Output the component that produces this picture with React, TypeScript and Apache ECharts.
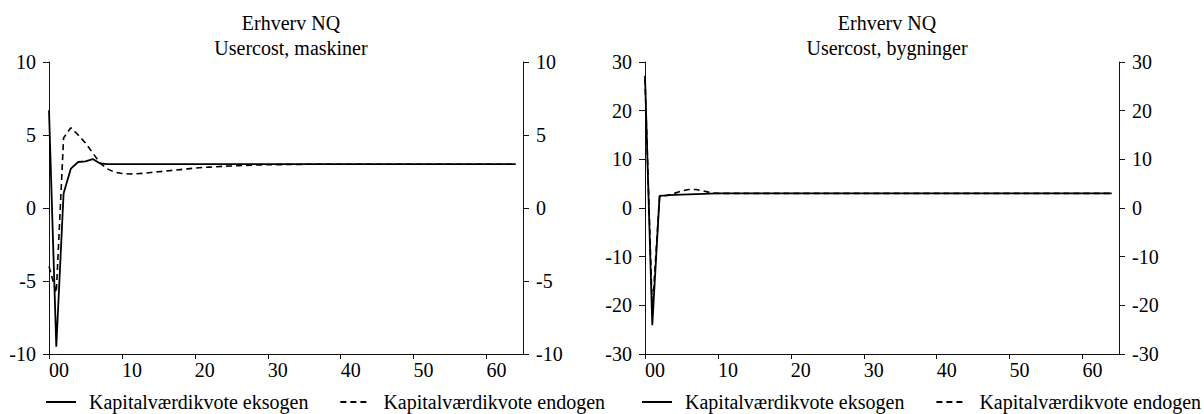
import React, { useEffect, useRef } from 'react';
import * as echarts from 'echarts';

const xTicks = [0, 10, 20, 30, 40, 50, 60];
const seriesNames = ['Kapitalværdikvote eksogen', 'Kapitalværdikvote endogen'];
const titles = ['Erhverv NQ\nUsercost, maskiner', 'Erhverv NQ\nUsercost, bygninger'];

const maskinerEksogen = [
  6.7, -9.5, 1.0, 2.7, 3.15, 3.2, 3.35, 3.05, 3.0, 3.0,
  3.0, 3.0, 3.0, 3.0, 3.0, 3.0, 3.0, 3.0, 3.0, 3.0,
  3.0, 3.0, 3.0, 3.0, 3.0, 3.0, 3.0, 3.0, 3.0, 3.0,
  3.0, 3.0, 3.0, 3.0, 3.0, 3.0, 3.0, 3.0, 3.0, 3.0,
  3.0, 3.0, 3.0, 3.0, 3.0, 3.0, 3.0, 3.0, 3.0, 3.0,
  3.0, 3.0, 3.0, 3.0, 3.0, 3.0, 3.0, 3.0, 3.0, 3.0,
  3.0, 3.0, 3.0, 3.0, 3.0,
];
const maskinerEndogen = [
  -4.0, -5.8, 4.8, 5.5, 5.0, 4.45, 3.77, 3.08, 2.68, 2.45,
  2.36, 2.33, 2.35, 2.38, 2.43, 2.48, 2.53, 2.58, 2.63, 2.68,
  2.73, 2.77, 2.8, 2.83, 2.86, 2.88, 2.9, 2.92, 2.94, 2.95,
  2.96, 2.97, 2.97, 2.98, 2.98, 2.99, 3.0, 3.0, 3.0, 3.0,
  3.0, 3.0, 3.0, 3.0, 3.0, 3.0, 3.0, 3.0, 3.0, 3.0,
  3.0, 3.0, 3.0, 3.0, 3.0, 3.0, 3.0, 3.0, 3.0, 3.0,
  3.0, 3.0, 3.0, 3.0, 3.0,
];
const bygningerEksogen = [
  27.2, -24.1, 2.5, 2.6, 2.7, 2.75, 2.8, 2.85, 2.9, 2.95,
  3.0, 3.0, 3.0, 3.0, 3.0, 3.0, 3.0, 3.0, 3.0, 3.0,
  3.0, 3.0, 3.0, 3.0, 3.0, 3.0, 3.0, 3.0, 3.0, 3.0,
  3.0, 3.0, 3.0, 3.0, 3.0, 3.0, 3.0, 3.0, 3.0, 3.0,
  3.0, 3.0, 3.0, 3.0, 3.0, 3.0, 3.0, 3.0, 3.0, 3.0,
  3.0, 3.0, 3.0, 3.0, 3.0, 3.0, 3.0, 3.0, 3.0, 3.0,
  3.0, 3.0, 3.0, 3.0, 3.0,
];
const bygningerEndogen = [
  26.5, -21.0, 2.3, 2.6, 3.0, 3.5, 3.8, 3.8, 3.5, 3.15,
  3.0, 3.0, 3.0, 3.0, 3.0, 3.0, 3.0, 3.0, 3.0, 3.0,
  3.0, 3.0, 3.0, 3.0, 3.0, 3.0, 3.0, 3.0, 3.0, 3.0,
  3.0, 3.0, 3.0, 3.0, 3.0, 3.0, 3.0, 3.0, 3.0, 3.0,
  3.0, 3.0, 3.0, 3.0, 3.0, 3.0, 3.0, 3.0, 3.0, 3.0,
  3.0, 3.0, 3.0, 3.0, 3.0, 3.0, 3.0, 3.0, 3.0, 3.0,
  3.0, 3.0, 3.0, 3.0, 3.0,
];

const FONT = 'Liberation Serif';

export default function App() {
  const ref = useRef<HTMLDivElement>(null);
  useEffect(() => {
    const chart = echarts.init(ref.current!, null, { renderer: 'svg' });
    const gridLefts = [49, 645];
    const yRanges = [
      { min: -10, max: 10, interval: 5 },
      { min: -30, max: 30, interval: 10 },
    ];
    const panels = [
      [maskinerEksogen, maskinerEndogen],
      [bygningerEksogen, bygningerEndogen],
    ];
    const axisLineStyle = { color: '#111', width: 1 };

    const grid = gridLefts.map((l) => ({ left: l, width: 474, top: 62, height: 292 }));
    const xAxis = gridLefts.map((_, g) => ({
      type: 'value',
      gridIndex: g,
      min: 0,
      max: 65,
      splitLine: { show: false },
      axisLine: { show: true, onZero: false, lineStyle: axisLineStyle },
      axisTick: { show: true, customValues: xTicks, length: 5, lineStyle: axisLineStyle },
      axisLabel: {
        fontSize: 20,
        fontFamily: FONT,
        color: '#000',
        customValues: xTicks,
        align: 'left',
        margin: 6,
        formatter: (v: number) => (v === 0 ? '00' : String(v)),
      },
    }));
    const yAxis: any[] = [];
    gridLefts.forEach((_, g) => {
      ['left', 'right'].forEach((pos) => {
        yAxis.push({
          type: 'value',
          gridIndex: g,
          position: pos,
          ...yRanges[g],
          splitLine: { show: false },
          axisLine: { show: true, onZero: false, lineStyle: axisLineStyle },
          axisTick: { show: true, length: 6, lineStyle: axisLineStyle },
          axisLabel: { fontSize: 20, fontFamily: FONT, color: '#000', margin: 13 },
        });
      });
    });
    const series: any[] = [];
    panels.forEach((pair, g) => {
      pair.forEach((vals, k) => {
        series.push({
          type: 'line',
          name: seriesNames[k],
          xAxisIndex: g,
          yAxisIndex: g * 2,
          data: vals.map((v, i) => [i, v]),
          symbol: 'none',
          lineStyle: {
            color: '#000',
            width: k === 0 ? 1.8 : 1.6,
            type: k === 0 ? 'solid' : [6, 4],
          },
          itemStyle: { color: '#000' },
          z: k === 0 ? 3 : 2,
        });
      });
    });
    const title = titles.map((t, g) => ({
      text: t,
      left: gridLefts[g] + 237,
      top: 5,
      textAlign: 'center',
      textStyle: { fontSize: 20, fontWeight: 'normal', fontFamily: FONT, color: '#000', lineHeight: 25 },
    }));
    const legend = gridLefts.map((l) => ({
      left: l - 4,
      top: 392,
      padding: 0,
      itemWidth: 30,
      itemHeight: 14,
      itemGap: 31,
      data: seriesNames,
      itemStyle: { opacity: 0 },
      textStyle: { fontSize: 20, fontFamily: FONT, color: '#000', padding: [0, 0, 0, 8] },
    }));

    chart.setOption({
      animation: false,
      backgroundColor: '#fff',
      title,
      legend,
      grid,
      xAxis,
      yAxis,
      series,
    });
    return () => chart.dispose();
  }, []);
  return <div ref={ref} style={{ position: 'fixed', left: 0, top: 0, width: 1204, height: 414 }} />;
}
